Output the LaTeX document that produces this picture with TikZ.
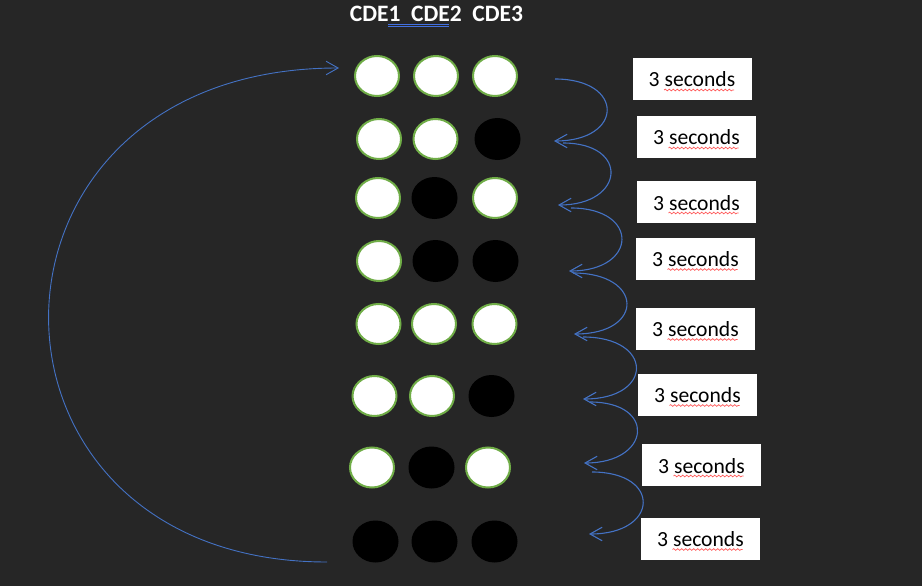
\documentclass[tikz,border=0pt]{standalone}
\usepackage{fontspec}
\setmainfont{Carlito}
\usepackage{tikz}
\usetikzlibrary{positioning,arrows.meta,calc,shapes.geometric,decorations.pathmorphing}
\definecolor{bg}{HTML}{262626}
\definecolor{offblue}{HTML}{4472C4}
\definecolor{pingreen}{HTML}{70AD47}
\definecolor{spellred}{HTML}{FF5A5A}
\definecolor{gramblue}{HTML}{4270E0}

\begin{document}
\begin{tikzpicture}[
  x=1pt,y=-1pt,
  litdot/.style={ellipse,draw=pingreen,line width=2pt,fill=white,minimum width=44pt,minimum height=40pt,inner sep=0pt},
  darkdot/.style={ellipse,fill=black,minimum width=46pt,minimum height=42pt,inner sep=0pt},
  timebox/.style={fill=white,minimum width=119pt,minimum height=42pt,inner sep=0pt,text height=16pt,text depth=0pt,font=\fontsize{21.6}{26}\selectfont},
  flow/.style={draw=offblue,line width=1.1pt,-{Straight Barb[length=12pt,width=13.5pt]}},
  squig/.style={draw=spellred,line width=0.7pt,decorate,decoration={snake,amplitude=0.9pt,segment length=4pt}},
]
  \fill[bg] (0,0) rectangle (922,586);
  \useasboundingbox (0,0) rectangle (922,586);

  \node[font=\bfseries\fontsize{23.5}{28}\selectfont,text=white,anchor=base,inner sep=0pt] (title) at (436.5,22) {CDE1~~CDE2~~CDE3};
  \draw[gramblue,line width=0.8pt] ($(title.base)+(-48.5,2)$) -- ($(title.base)+(12.5,2)$);
  \draw[gramblue,line width=0.8pt] ($(title.base)+(-48.5,4.7)$) -- ($(title.base)+(12.5,4.7)$);

  \foreach \r/\y/\xa/\xb/\xc/\sa/\sb/\sc in {
    1/76/377/436/495/litdot/litdot/litdot,
    2/139/379/435.5/497.5/litdot/litdot/darkdot,
    3/198/378/434.5/495/litdot/darkdot/litdot,
    4/261/379/435.5/495.5/litdot/darkdot/darkdot,
    5/324/378.5/434/494.5/litdot/litdot/litdot,
    6/396/374.5/432/491.5/litdot/litdot/darkdot,
    7/467.5/372/431.5/488/litdot/darkdot/litdot,
    8/541.5/375.5/434.5/494.5/darkdot/darkdot/darkdot} {
    \node[\sa] (c\r1) at (\xa,\y) {};
    \node[\sb] (c\r2) at (\xb,\y) {};
    \node[\sc] (c\r3) at (\xc,\y) {};
  }

  \foreach \r/\x/\y in {1/692/79,2/696.5/137,3/696.5/202,4/695.5/258.5,5/695.5/328.5,6/697.5/394.5,7/701.5/465,8/700.5/538.5}
    \node[timebox] (t\r) at (\x,\y) {3 seconds};
  \foreach \r in {1,...,8}
    \draw[squig] ($(t\r.center)+(-28,11)$) -- ($(t\r.center)+(42,11)$);

  \foreach \i/\sx/\sy/\ex/\ey/\d in {1/555/79/554/141/70,2/563/143/558/205/67,3/571/208/569/271/69,4/573/273/574/334/71,5/583/337/583/399/71,6/590/402/584/463/67,7/592/472/589/534/70} {
    \coordinate (s\i) at (\sx,\sy);
    \coordinate (e\i) at (\ex,\ey);
    \draw[flow] (s\i) .. controls ($(s\i)+(\d,0)$) and ($(e\i)+(\d,0)$) .. (e\i);
  }

  \coordinate (loopS) at (327,562);
  \coordinate (loopE) at (339,68);
  \draw[flow,line width=0.9pt] (loopS) .. controls (-46,562) and (-46,68) .. (loopE);
\end{tikzpicture}
\end{document}
